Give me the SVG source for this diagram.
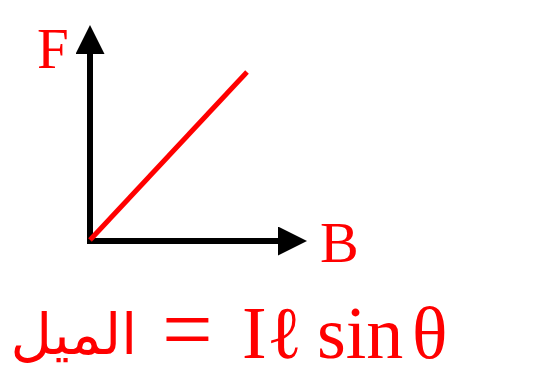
<svg xmlns="http://www.w3.org/2000/svg" width="557" height="376" viewBox="0 0 557 376">
<style>
.axis{stroke:#000;stroke-width:6;fill:none}
.lbl{fill:#ff0000;font-family:"Liberation Serif",serif}
</style>
<defs>
<marker id="ah" markerUnits="userSpaceOnUse" markerWidth="29" markerHeight="29" refX="0" refY="14.5" orient="auto" viewBox="0 0 29 29">
<path d="M0,0 L29,14.5 L0,29 z" fill="#000"/>
</marker>
</defs>
<rect width="557" height="376" fill="#fff"/>
<g id="connectors">
<line class="axis" x1="90" y1="244" x2="90" y2="54" marker-end="url(#ah)"/>
<line class="axis" x1="87" y1="241" x2="278" y2="241" marker-end="url(#ah)"/>
<line x1="90" y1="240" x2="247" y2="72" stroke="#ff0000" stroke-width="5"/>
</g>
<g id="label-F"><text class="lbl" x="37" y="68" font-size="57">F</text></g>
<g id="label-B"><text class="lbl" x="320" y="262" font-size="58">B</text></g>
<g id="equation">
<text x="137" y="354" fill="#ff0000" font-family="'DejaVu Sans',sans-serif" font-size="57" text-anchor="end">الميل</text>
<text class="lbl" x="162" y="360" font-size="90">=</text>
<text class="lbl" x="242" y="358" font-size="74">I</text>
<text class="lbl" x="267" y="358" font-size="74">ℓ</text>
<text class="lbl" x="317" y="358" font-size="74">sin</text>
<text class="lbl" x="412" y="358" font-size="74">θ</text>
</g>
</svg>
